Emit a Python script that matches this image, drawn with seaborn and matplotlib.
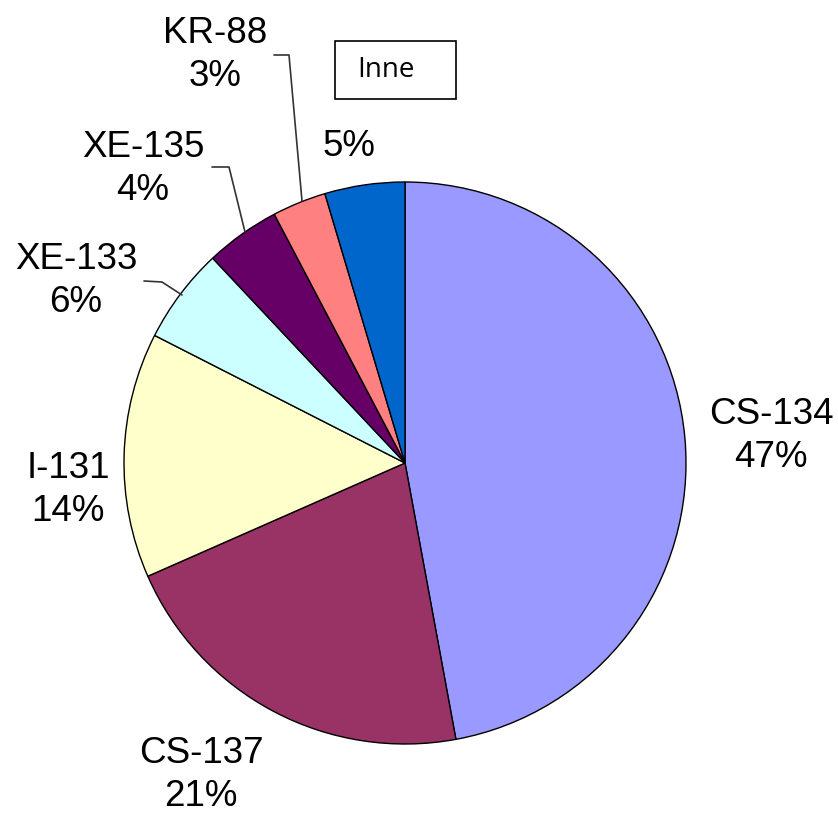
import matplotlib
matplotlib.use("Agg")
import matplotlib.pyplot as plt
import seaborn as sns

# ---- data ----
isotopes = ["CS-134", "CS-137", "I-131", "XE-133", "XE-135", "KR-88", "Inne"]
shares = [47.1, 21.3, 14.1, 5.5, 4.3, 3.1, 4.6]
colors = ["#9999FF", "#993366", "#FFFFCC", "#CCFFFF", "#660066", "#FF8080", "#0066CC"]

sns.set_theme(style="white")
plt.rcParams["font.family"] = ["Liberation Sans", "DejaVu Sans"]

W, H = 838, 813
fig = plt.figure(figsize=(W / 100, H / 100), dpi=100)
ax = fig.add_axes([0, 0, 1, 1])

def Y(py):
    return H - py

cx, cy, r = 405, 463, 281
ax.pie(shares, colors=sns.color_palette(colors), startangle=90, counterclock=False,
       center=(cx, Y(cy)), radius=r,
       wedgeprops=dict(edgecolor="black", linewidth=1.0))

ax.set_xlim(0, W)
ax.set_ylim(0, H)
ax.set_aspect("equal")
ax.axis("off")

# label placement (pixel coordinates of the text block centres)
label_pos = {
    "CS-134": (771, 436),
    "CS-137": (201, 775),
    "I-131": (68, 490),
    "XE-133": (76, 281),
    "XE-135": (143, 169),
    "KR-88": (215, 55),
}
fs = 26.5
for name, v in zip(isotopes, shares):
    pct = f"{round(v):d}%"
    if name in label_pos:
        x, y = label_pos[name]
        ax.text(x, Y(y), f"{name}\n{pct}", ha="center", va="center", fontsize=fs,
                color="black", linespacing=1.32)
    else:
        ax.text(349, Y(146), pct, ha="center", va="center", fontsize=fs, color="black")
        ax.text(357, Y(70), name, ha="left", va="center", fontsize=20,
                family=["Open Sans", "DejaVu Sans"], color="black")
        ax.add_patch(plt.Rectangle((335, Y(99)), 121, 58, fill=False,
                                   edgecolor="black", linewidth=1.2))

# leader lines
leaders = [
    [(274, 55), (289, 55), (302, 201)],
    [(212, 167), (229, 167), (245, 232)],
    [(144, 281), (162, 282), (182, 295)],
]
for pts in leaders:
    ax.plot([p[0] for p in pts], [Y(p[1]) for p in pts], color="#333333", linewidth=1.2)

fig.savefig("out.png", dpi=100, facecolor="white")
